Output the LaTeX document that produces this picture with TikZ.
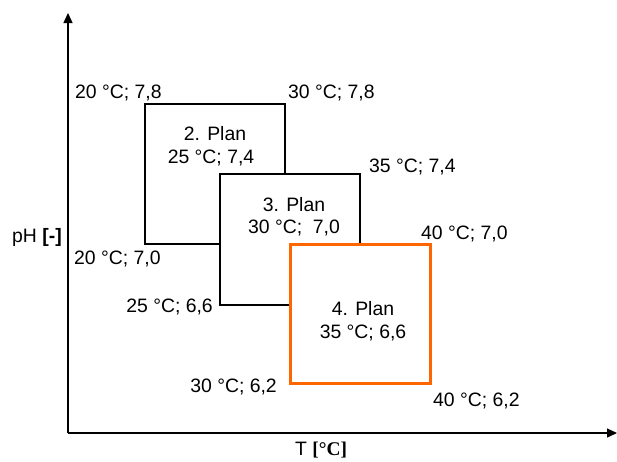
\documentclass[tikz,border=0pt]{standalone}
\usepackage{fontspec}
\setmainfont{Liberation Sans}
\newfontfamily\timesfont{Liberation Serif}
\usetikzlibrary{arrows.meta}
\definecolor{planorange}{RGB}{255,102,0}
\tikzset{
  axisline/.style={line width=1.3pt, -{Triangle[length=10pt,width=9pt]}},
  planbox/.style={draw=black, fill=white, line width=1.3pt, inner sep=0pt, outer sep=0pt, minimum width=140pt},
  lbl/.style={inner sep=0pt, font=\fontsize{19.4}{22}\selectfont, align=center},
}
\begin{document}
\begin{tikzpicture}[x=1pt,y=-1pt]
\useasboundingbox (0,0) rectangle (617,461);
\coordinate (o) at (68,433);
\coordinate (ytip) at (68,13);
\coordinate (xtip) at (617,433);
\draw[axisline] (o) -- (ytip);
\draw[axisline] (o) -- (xtip);
% boxes
\node[planbox, minimum height=140pt] (b2) at (215,174) {};
\node[planbox, minimum height=131pt] (b3) at (290,239.5) {};
\node[planbox, draw=planorange, line width=3pt, minimum height=139pt] (b4) at (360,313.5) {};
% box texts
\node[lbl] (t2a) at (215,134) {2. Plan};
\node[lbl] (t2b) at (211,158) {25 °C; 7,4};
\node[lbl] (t3a) at (294,205) {3. Plan};
\node[lbl] (t3b) at (294,228) {30 °C;\ \ 7,0};
\node[lbl] (t4a) at (363,309) {4. Plan};
\node[lbl] (t4b) at (363,333) {35 °C; 6,6};
% corner labels
\node[lbl, anchor=west] (c1) at (75,93) {20 °C; 7,8};
\node[lbl, anchor=west] (c2) at (288,93) {30 °C; 7,8};
\node[lbl, anchor=west] (c3) at (369,167) {35 °C; 7,4};
\node[lbl, anchor=west] (c4) at (421,234) {40 °C; 7,0};
\node[lbl, anchor=west] (c5) at (74,259) {20 °C; 7,0};
\node[lbl, anchor=east] (c6) at (213,307) {25 °C; 6,6};
\node[lbl, anchor=east] (c7) at (277,387) {30 °C; 6,2};
\node[lbl, anchor=west] (c8) at (433,401) {40 °C; 6,2};
% axis labels
\node[lbl, anchor=west] (ylab) at (12,237) {pH \textbf{[-]}};
\node[lbl, anchor=west] (xlab) at (295,450) {T {\timesfont\bfseries [°C]}};
\end{tikzpicture}
\end{document}
